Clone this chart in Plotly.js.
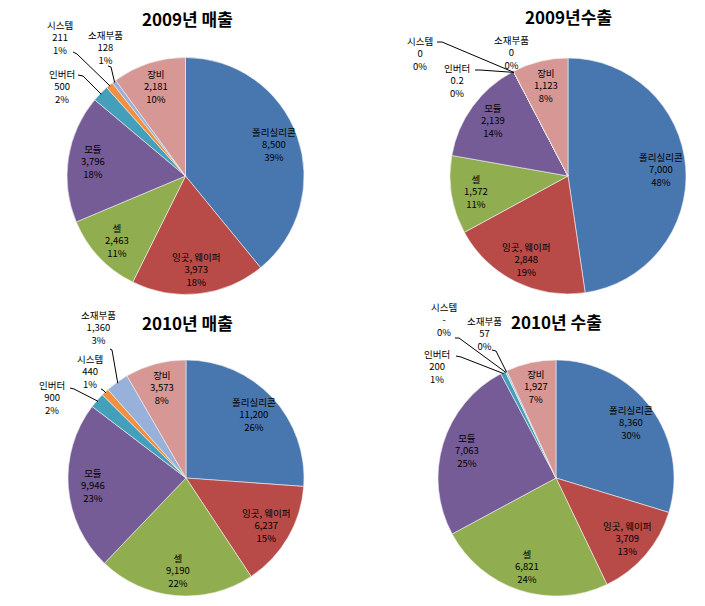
<!DOCTYPE html>
<html>
<head>
<meta charset="utf-8">
<script src="https://cdn.plot.ly/plotly-3.0.1.min.js"></script>
<style>html,body{margin:0;padding:0;background:#fff;}#chart{width:705px;height:606px;}</style>
</head>
<body>
<div id="chart"></div>
<script>
// ---- data ----
const categories = ['폴리실리콘', '잉곳, 웨이퍼', '셀', '모듈', '인버터', '시스템', '소재부품', '장비'];

const sales2009 = [8500, 3973, 2463, 3796, 500, 211, 128, 2181];
const sales2009Pct = [39, 18, 11, 18, 2, 1, 1, 10];

const export2009 = [7000, 2848, 1572, 2139, 0.2, 0, 0, 1123];
const export2009Pct = [48, 19, 11, 14, 0, 0, 0, 8];

const sales2010 = [11200, 6237, 9190, 9946, 900, 440, 1360, 3573];
const sales2010Pct = [26, 15, 22, 23, 2, 1, 3, 8];

const export2010 = [8360, 3709, 6821, 7063, 200, null, 57, 1927];
const export2010Pct = [30, 13, 24, 25, 1, 0, 0, 7];

const titles = ['2009년 매출', '2009년수출', '2010년 매출', '2010년 수출'];

// ---- styling ----
const colors = ['#4877AF', '#B84A47', '#90AD4F', '#765C96', '#449FBA', '#F28F40', '#97B1DA', '#D69795'];
const W = 705, H = 606;
const FONT = '"Noto Sans CJK KR", "Malgun Gothic", sans-serif';

const charts = [
  { values: sales2009, pct: sales2009Pct, title: titles[0], cx: 185.5, cy: 176, r: 118.5, tx: 187, ty: 18,
    outside: {
      4: { pos: [62, 86], lead: [[78, 75], [83, 76]] },
      5: { pos: [60, 38], lead: [[73, 52], [77, 54]] },
      6: { pos: [105, 47], lead: [[108, 66], [111, 67]] }
    } },
  { values: export2009, pct: export2009Pct, title: titles[1], cx: 568, cy: 176, r: 118, tx: 568, ty: 17,
    outside: {
      4: { pos: [457, 80], lead: [[475, 70], [480, 70]] },
      5: { pos: [420, 53], lead: [[437, 42], [442, 42]] },
      6: { pos: [511, 52], lead: null }
    } },
  { values: sales2010, pct: sales2010Pct, title: titles[2], cx: 186, cy: 478, r: 118, tx: 187, ty: 322,
    outside: {
      4: { pos: [52, 397], lead: [[70, 388], [74, 389]] },
      5: { pos: [90, 371], lead: [[101, 389], [103, 390]] },
      6: { pos: [98, 327], lead: [[110, 349], [112, 350]] }
    } },
  { values: export2010, pct: export2010Pct, title: titles[3], cx: 556, cy: 478, r: 118, tx: 556, ty: 321,
    outside: {
      4: { pos: [437, 366], lead: [[456, 356], [461, 357]] },
      5: { pos: [444, 320], lead: [[455, 338], [459, 338]] },
      6: { pos: [484, 333], lead: [[492, 350], [496, 351]] }
    } }
];

function fmt(v) {
  if (v === null || v === undefined) return '-';
  if (Math.abs(v) < 1 && v !== 0) return String(v);
  return v.toLocaleString('en-US');
}
const px = x => x / W;
const py = y => 1 - y / H;

const traces = [];
const annotations = [];
const shapes = [];

charts.forEach(c => {
  traces.push({
    type: 'pie',
    values: c.values.map(v => v === null ? 0 : v),
    labels: categories,
    sort: false,
    direction: 'clockwise',
    rotation: 0,
    textinfo: 'none',
    hoverinfo: 'none',
    showlegend: false,
    marker: { colors: colors, line: { color: '#f0f0f0', width: 0.6 } },
    domain: { x: [px(c.cx - c.r), px(c.cx + c.r)], y: [py(c.cy + c.r), py(c.cy - c.r)] }
  });

  annotations.push({
    xref: 'paper', yref: 'paper', x: px(c.tx), y: py(c.ty), xanchor: 'center', yanchor: 'middle',
    text: '<b>' + c.title + '</b>', showarrow: false, font: { family: FONT, size: 17, color: '#000' }
  });

  const total = c.values.reduce((a, b) => a + (b || 0), 0);
  let cum = 0;
  c.values.forEach((v, i) => {
    const val = v || 0;
    const a0 = cum / total * 2 * Math.PI;
    cum += val;
    const a1 = cum / total * 2 * Math.PI;
    const mid = (a0 + a1) / 2;
    const text = categories[i] + '<br>' + fmt(v) + '<br>' + c.pct[i] + '%';
    const o = c.outside[i];
    if (o) {
      annotations.push({
        xref: 'paper', yref: 'paper', x: px(o.pos[0]), y: py(o.pos[1]), xanchor: 'center', yanchor: 'middle',
        text: text, showarrow: false, align: 'center', font: { family: FONT, size: 9.5, color: '#000' }
      });
      if (o.lead) {
        const tx = c.cx + c.r * 0.99 * Math.sin(mid);
        const ty = c.cy - c.r * 0.99 * Math.cos(mid);
        const pts = o.lead.concat([[tx, ty]]);
        const path = pts.map((p, k) => (k ? 'L' : 'M') + px(p[0]) + ',' + py(p[1])).join(' ');
        shapes.push({ type: 'path', xref: 'paper', yref: 'paper', path: path, line: { color: '#000', width: 1 } });
      }
    } else {
      const rr = 0.79 * c.r;
      const lx = c.cx + rr * Math.sin(mid);
      const ly = c.cy - rr * Math.cos(mid);
      annotations.push({
        xref: 'paper', yref: 'paper', x: px(lx), y: py(ly), xanchor: 'center', yanchor: 'middle',
        text: text, showarrow: false, align: 'center', font: { family: FONT, size: 9.5, color: '#000' }
      });
    }
  });
});

const layout = {
  width: W, height: H,
  margin: { l: 0, r: 0, t: 0, b: 0 },
  paper_bgcolor: '#fff',
  annotations: annotations,
  shapes: shapes
};

Plotly.newPlot('chart', traces, layout, { staticPlot: true, displayModeBar: false });
</script>
</body>
</html>
